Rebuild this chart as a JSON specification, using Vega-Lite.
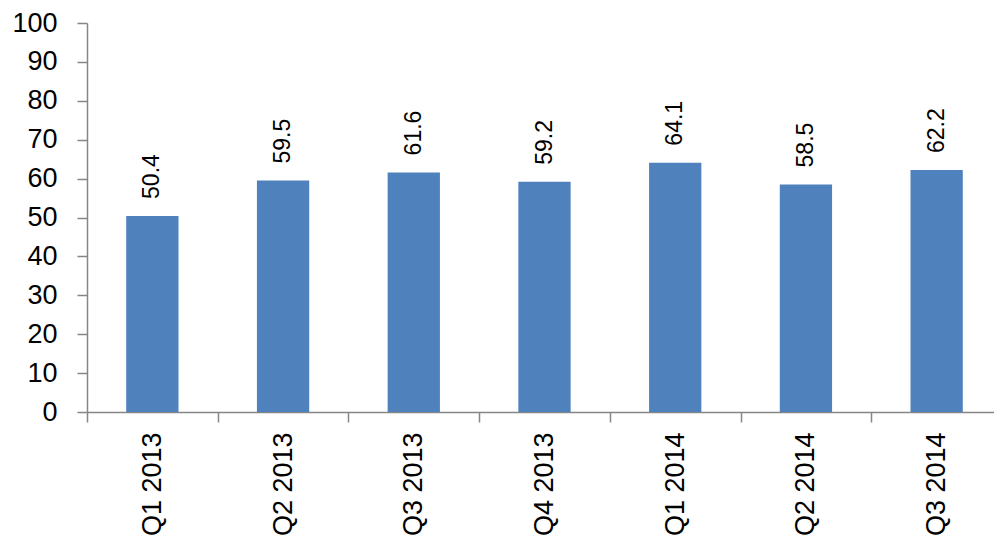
{
  "$schema": "https://vega.github.io/schema/vega-lite/v6.json",
  "width": 915,
  "height": 389,
  "padding": {"left": 11, "top": 9, "right": 0, "bottom": 0},
  "background": "white",
  "config": {
    "view": {"stroke": null},
    "font": "Liberation Sans"
  },
  "data": {
    "values": [
      {"quarter": "Q1 2013", "value": 50.4},
      {"quarter": "Q2 2013", "value": 59.5},
      {"quarter": "Q3 2013", "value": 61.6},
      {"quarter": "Q4 2013", "value": 59.2},
      {"quarter": "Q1 2014", "value": 64.1},
      {"quarter": "Q2 2014", "value": 58.5},
      {"quarter": "Q3 2014", "value": 62.2}
    ]
  },
  "encoding": {
    "x": {
      "field": "quarter",
      "type": "nominal",
      "sort": null,
      "scale": {"paddingInner": 0.6, "paddingOuter": 0.3},
      "axis": {
        "title": null,
        "labelAngle": -90,
        "labelFontSize": 27,
        "labelColor": "black",
        "labelPadding": 10,
        "tickSize": 10,
        "tickColor": "#868686",
        "domainColor": "#868686",
        "tickWidth": 1.5,
        "domainWidth": 1.5,
        "tickOffset": -65.35,
        "labelOffset": 65.35
      }
    },
    "y": {
      "field": "value",
      "type": "quantitative",
      "scale": {"domain": [0, 100]},
      "axis": {
        "title": null,
        "values": [0, 10, 20, 30, 40, 50, 60, 70, 80, 90, 100],
        "grid": false,
        "labelFontSize": 27,
        "labelColor": "black",
        "labelPadding": 20,
        "tickSize": 10,
        "tickColor": "#868686",
        "domainColor": "#868686",
        "tickWidth": 1.5,
        "domainWidth": 1.5
      }
    }
  },
  "layer": [
    {"mark": {"type": "bar", "color": "#4F81BD"}},
    {
      "mark": {
        "type": "text",
        "angle": 270,
        "align": "left",
        "baseline": "middle",
        "fontSize": 23,
        "color": "black",
        "yOffset": -17
      },
      "encoding": {"text": {"field": "value", "type": "quantitative", "format": ".1f"}}
    }
  ]
}
